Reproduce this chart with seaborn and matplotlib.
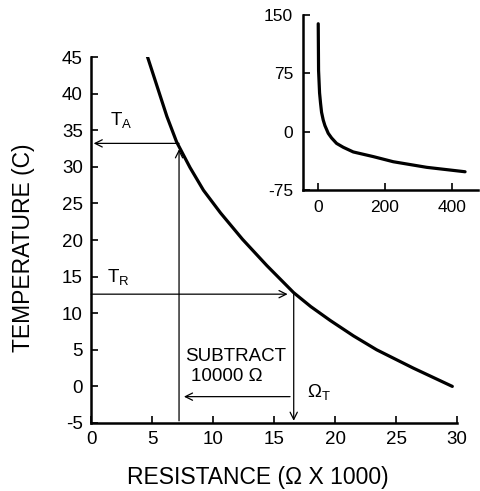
import matplotlib
matplotlib.use("Agg")
import matplotlib.pyplot as plt
import seaborn as sns
import pandas as pd

# main curve (kOhm, deg C)
res_k = [4.6, 5.4, 6.2, 7.0, 8.1, 9.2, 10.6, 12.4, 14.4, 16.6, 18.0, 19.6, 21.5, 23.4, 26.4, 29.6]
temp_c = [45.1, 41.0, 36.9, 33.4, 29.9, 26.8, 23.7, 20.1, 16.5, 12.8, 10.9, 9.0, 6.9, 5.0, 2.5, 0.0]

# inset curve (full range)
inset_res = [0, 1, 4, 7, 10, 15, 20, 30, 40, 55, 75, 105, 165, 225, 325, 440]
inset_temp = [139, 79, 50, 36.5, 25, 15, 8, -2, -8, -15, -20, -26, -32, -38.6, -45.8, -51.5]

main_xticks = [0, 5, 10, 15, 20, 25, 30]
main_yticks = [-5, 0, 5, 10, 15, 20, 25, 30, 35, 40, 45]
inset_xticks = [0, 200, 400]
inset_yticks = [-75, 0, 75, 150]

# arrows: (start, end)
arrows = [
    ((7.2, 33.2), (0.2, 33.2)),
    ((7.2, -4.7), (7.2, 32.4)),
    ((0.0, 12.6), (16.1, 12.6)),
    ((16.6, 12.6), (16.6, -4.7)),
    ((16.3, -1.4), (7.6, -1.4)),
]

sns.set_style("ticks", {"axes.edgecolor": "black", "text.color": "black",
                        "axes.labelcolor": "black", "xtick.color": "black",
                        "ytick.color": "black"})
plt.rcParams["font.family"] = ["Liberation Sans", "DejaVu Sans"]
plt.rcParams["mathtext.fontset"] = "custom"
plt.rcParams["mathtext.rm"] = "Liberation Sans"
plt.rcParams["mathtext.it"] = "Liberation Sans"
plt.rcParams["axes.unicode_minus"] = False

fig = plt.figure(figsize=(4.8, 4.91), dpi=100)
ax = fig.add_axes([0.19, 0.1385, 0.7625, 0.7454])

df = pd.DataFrame({"r": res_k, "t": temp_c})
sns.lineplot(data=df, x="r", y="t", ax=ax, color="black", lw=2.3, sort=False)

for (x0, y0), (x1, y1) in arrows:
    ax.annotate("", xy=(x1, y1), xytext=(x0, y0),
                arrowprops=dict(arrowstyle="->", color="black", lw=0.9,
                                shrinkA=0, shrinkB=0, mutation_scale=13))

ax.text(1.5, 35.7, r"T$_\mathrm{A}$", fontsize=13.5, va="baseline")
ax.text(1.3, 14.3, r"T$_\mathrm{R}$", fontsize=13.5, va="baseline")
ax.text(7.7, 3.5, "SUBTRACT", fontsize=13.5, va="baseline")
ax.text(8.2, 0.8, "10000 Ω", fontsize=13.5, va="baseline")
ax.text(17.7, -1.4, r"Ω$_\mathrm{T}$", fontsize=13.5, va="baseline")

ax.set_xlim(0, 30)
ax.set_ylim(-5, 45)
ax.set_xticks(main_xticks)
ax.set_yticks(main_yticks)
ax.tick_params(direction="in", length=5, width=1.2, labelsize=13.5, pad=6)
ax.set_xlabel("RESISTANCE (Ω X 1000)", fontsize=16.5, labelpad=13, x=0.455)
ax.set_ylabel("TEMPERATURE (C)", fontsize=16.5, labelpad=19, y=0.48)
sns.despine(ax=ax)
for s in ["left", "bottom"]:
    ax.spines[s].set_linewidth(1.8)

# inset
axi = fig.add_axes([0.631, 0.613, 0.365, 0.356])
dfi = pd.DataFrame({"r": inset_res, "t": inset_temp})
sns.lineplot(data=dfi, x="r", y="t", ax=axi, color="black", lw=2.3, sort=False)
axi.set_xlim(-46, 479)
axi.set_ylim(-75, 150)
axi.set_xticks(inset_xticks)
axi.set_yticks(inset_yticks)
axi.tick_params(direction="in", length=5, width=1.2, labelsize=12.5, pad=7)
axi.set_xlabel("")
axi.set_ylabel("")
axi.patch.set_alpha(0)
sns.despine(ax=axi)
for s in ["left", "bottom"]:
    axi.spines[s].set_linewidth(1.8)

fig.savefig("out.png", dpi=100)
